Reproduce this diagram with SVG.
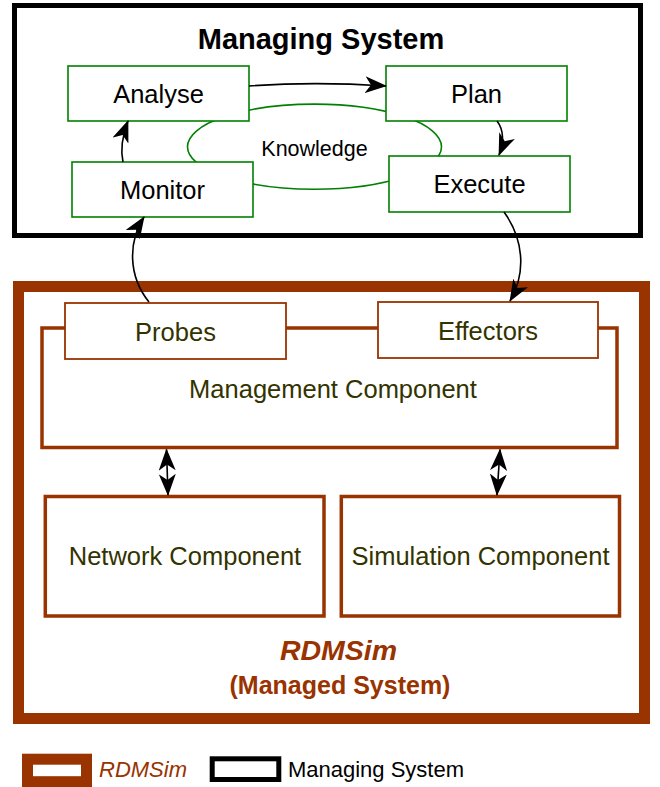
<svg xmlns="http://www.w3.org/2000/svg" width="660" height="787" viewBox="0 0 660 787">
<defs>
<style>
text{font-family:"Liberation Sans",Arial,Helvetica,sans-serif;text-anchor:middle}
.mape{fill:#fff;stroke:#008000;stroke-width:1.6}
.lbl{font-size:25.5px;fill:#000}
.comp{fill:#fff;stroke:#993300;stroke-width:3.5}
.port{fill:#fff;stroke:#993300;stroke-width:1.8}
.ctext{font-size:25.5px;fill:#333300}
.conn{fill:none;stroke:#000;stroke-width:1.6}
</style>
<marker id="arr" viewBox="0 0 22 17" refX="21" refY="8.5" markerWidth="22" markerHeight="17" markerUnits="userSpaceOnUse" orient="auto-start-reverse">
<path d="M0,0 L22,8.5 L0,17 L6,8.5 Z" fill="#000"/>
</marker>
</defs>
<rect width="660" height="787" fill="#fff"/>

<g id="managing-system">
<rect x="14.5" y="5.5" width="626" height="230" fill="#fff" stroke="#000" stroke-width="5"/>
<text x="321" y="49" style="font-size:29px;font-weight:bold">Managing System</text>
</g>

<g id="knowledge">
<ellipse cx="314.5" cy="146.7" rx="127" ry="42.6" fill="none" stroke="#008000" stroke-width="1.6"/>
<text x="314.5" y="156" style="font-size:21.5px">Knowledge</text>
</g>

<g id="analyse">
<rect class="mape" x="68" y="66" width="181" height="55"/>
<text class="lbl" x="158.5" y="103">Analyse</text>
</g>
<g id="plan">
<rect class="mape" x="386" y="66" width="181" height="55"/>
<text class="lbl" x="476.5" y="103">Plan</text>
</g>
<g id="monitor">
<rect class="mape" x="72" y="162" width="181" height="55"/>
<text class="lbl" x="162.5" y="199">Monitor</text>
</g>
<g id="execute">
<rect class="mape" x="389" y="156" width="181" height="56"/>
<text class="lbl" x="479.5" y="193">Execute</text>
</g>

<g id="rdmsim">
<rect x="18.5" y="286.5" width="626" height="432" fill="#fff" stroke="#993300" stroke-width="11"/>
<text x="338.5" y="659.5" style="font-size:28.5px;font-weight:bold;font-style:italic;fill:#993300">RDMSim</text>
<text x="340" y="693.5" style="font-size:25px;font-weight:bold;fill:#993300">(Managed System)</text>
</g>

<g id="management-component">
<rect class="comp" x="42" y="328" width="575" height="119.5"/>
<text class="ctext" x="333" y="398">Management Component</text>
</g>
<g id="probes">
<rect class="port" x="65" y="303" width="221" height="56"/>
<text class="ctext" x="175.5" y="340.5">Probes</text>
</g>
<g id="effectors">
<rect class="port" x="378" y="302" width="220" height="56"/>
<text class="ctext" x="488" y="339.5">Effectors</text>
</g>
<g id="network-component">
<rect class="comp" x="45.3" y="496.5" width="278.7" height="119.5"/>
<text class="ctext" x="185" y="565">Network Component</text>
</g>
<g id="simulation-component">
<rect class="comp" x="341.3" y="496.5" width="278.2" height="119.5"/>
<text class="ctext" x="480.5" y="565">Simulation Component</text>
</g>

<g id="connectors">
<path class="conn" d="M249,86 C290,83 340,83 386,86" marker-end="url(#arr)"/>
<path class="conn" d="M497,121 C504,130 504,143 499,155" marker-end="url(#arr)"/>
<path class="conn" d="M123,162 C120,148 123,134 128,121" marker-end="url(#arr)"/>
<path class="conn" d="M149,302 C128,276 128,242 144,217" marker-end="url(#arr)"/>
<path class="conn" d="M504,212 C523,238 527,272 510,301" marker-end="url(#arr)"/>
<path class="conn" d="M166.5,449.5 L168,495" marker-start="url(#arr)" marker-end="url(#arr)"/>
<path class="conn" d="M500,449.5 L497,495" marker-start="url(#arr)" marker-end="url(#arr)"/>
</g>

<g id="legend">
<rect x="27.5" y="759.2" width="59" height="22.5" fill="#fff" stroke="#993300" stroke-width="11"/>
<text x="143" y="777" style="font-size:22px;font-style:italic;fill:#993300">RDMSim</text>
<rect x="212.2" y="758.8" width="66.6" height="20.7" fill="#fff" stroke="#000" stroke-width="5"/>
<text x="376" y="777" style="font-size:22px;fill:#000">Managing System</text>
</g>
</svg>
